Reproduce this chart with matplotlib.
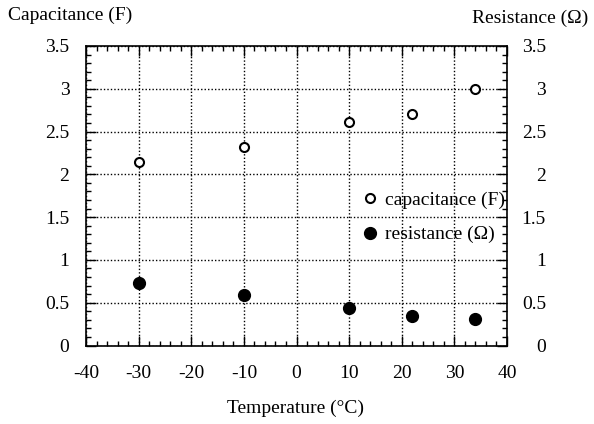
import matplotlib
matplotlib.use("Agg")
import matplotlib.pyplot as plt
import matplotlib.transforms as mtransforms
from matplotlib.ticker import MultipleLocator

temperature = [-30, -10, 10, 22, 34]
capacitance = [2.145, 2.32, 2.61, 2.71, 3.0]
resistance = [0.735, 0.588, 0.436, 0.345, 0.31]

x_ticks = [-40, -30, -20, -10, 0, 10, 20, 30, 40]
y_ticks = [0, 0.5, 1, 1.5, 2, 2.5, 3, 3.5]
y_tick_labels = ["0", "0.5", "1", "1.5", "2", "2.5", "3", "3.5"]

plt.rcParams["font.family"] = ["Liberation Serif", "DejaVu Serif"]

W, H = 594, 424
fig = plt.figure(figsize=(W / 100, H / 100), dpi=100)
ax = fig.add_axes([86 / W, 1 - 345.5 / H, (507 - 86) / W, (345.5 - 46) / H])

ax.plot(temperature, capacitance, linestyle="none", marker="o", markersize=6.5,
        markerfacecolor="white", markeredgecolor="black", markeredgewidth=1.5,
        label="capacitance (F)", zorder=3)
ax.plot(temperature, resistance, linestyle="none", marker="o", markersize=8.5,
        markerfacecolor="black", markeredgecolor="black",
        label="resistance (Ω)", zorder=3)

ax.set_xlim(-40, 40)
ax.set_ylim(0, 3.5)
ax.set_xticks(x_ticks)
ax.set_xticklabels([str(t) for t in x_ticks])
ax.set_yticks(y_ticks)
ax.set_yticklabels(y_tick_labels)
ax.xaxis.set_minor_locator(MultipleLocator(2))
ax.yaxis.set_minor_locator(MultipleLocator(0.1))

ax.grid(True, which="major", color="black", linestyle=(0, (1, 1.5)), linewidth=1.0)
ax.tick_params(which="both", direction="in", top=True, right=True,
               labelright=False, color="black", width=1.0)
ax.tick_params(which="major", length=7, labelsize=14)
ax.tick_params(which="minor", length=3.5)
ax.tick_params(axis="x", which="major", pad=14)
ax.tick_params(axis="y", which="major", pad=12)
for s in ax.spines.values():
    s.set_linewidth(1.2)

# right-hand scale labels, right-aligned at a fixed distance from the frame
blend = mtransforms.blended_transform_factory(ax.transAxes, ax.transData)
offset = mtransforms.ScaledTranslation(28 / 72, 0, fig.dpi_scale_trans)
for v, s in zip(y_ticks, y_tick_labels):
    ax.text(1.0, v, s, transform=blend + offset, ha="right", va="center_baseline",
            fontsize=14, clip_on=False)

fig.text(0.013, 1 - 15 / H, "Capacitance (F)", fontsize=14, ha="left", va="center")
fig.text(0.99, 1 - 18 / H, "Resistance (Ω)", fontsize=14, ha="right", va="center")
fig.text(0.497, 1 - 408 / H, "Temperature (°C)", fontsize=14, ha="center", va="center")

fig.legend(handles=ax.get_lines(), loc="center left",
           bbox_to_anchor=(360 / W, 1 - 217.5 / H), frameon=False,
           fontsize=14, handletextpad=0.27, handlelength=1.0, labelspacing=0.85,
           borderaxespad=0.0, borderpad=0.0)

fig.savefig("out.png", dpi=100)
